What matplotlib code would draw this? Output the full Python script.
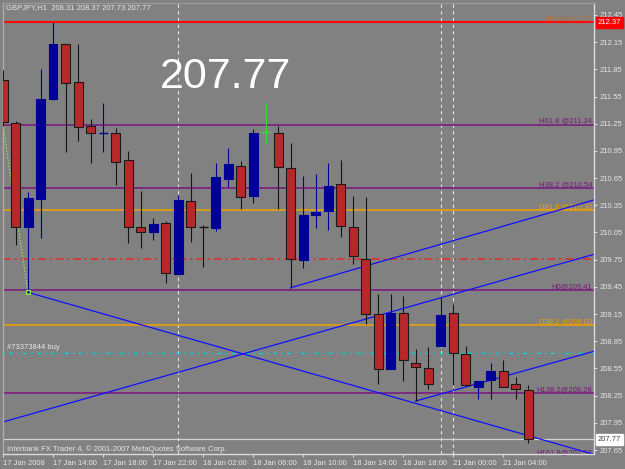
import numpy as np
import matplotlib.pyplot as plt

# GBPJPY H1 bars, 17 Jan 10:00 .. 21 Jan 04:00 (bar index = position on chart)
opens = [211.73, 211.26, 210.11, 210.42, 211.52, 212.13, 211.71, 211.22, 211.15, 211.15,
         210.85, 210.11, 210.05, 210.16, 209.59, 210.40, 210.11, 210.10, 210.64, 210.78,
         210.45, 211.16, 211.15, 210.76, 209.75, 210.24, 210.29, 210.59, 210.11, 209.76,
         209.15, 208.54, 209.16, 208.61, 208.56, 208.80, 209.16, 208.71, 208.35, 208.42,
         208.52, 208.38, 208.31]
highs = [211.84, 211.28, 210.50, 211.85, 212.37, 212.13, 212.13, 211.30, 211.48, 211.20,
         210.95, 210.51, 210.21, 210.18, 210.46, 210.71, 210.13, 210.82, 210.98, 210.84,
         211.19, 211.49, 211.23, 211.04, 210.67, 210.69, 210.82, 210.85, 210.45, 210.44,
         209.37, 209.37, 209.35, 208.77, 208.79, 209.34, 209.26, 208.80, 208.41, 208.61,
         208.64, 208.46, 208.37]
lows = [211.22, 209.91, 209.39, 209.99, 211.51, 210.94, 211.06, 210.82, 210.94, 210.57,
        209.93, 209.88, 209.97, 209.49, 209.59, 209.95, 209.67, 210.07, 210.55, 210.31,
        210.38, 211.03, 210.31, 209.44, 209.66, 210.10, 210.08, 210.00, 209.70, 209.04,
        208.38, 208.54, 208.41, 208.19, 208.32, 208.80, 208.37, 208.36, 208.21, 208.21,
        208.35, 208.21, 207.73]
closes = [211.27, 210.11, 210.43, 211.52, 212.13, 211.70, 211.21, 211.15, 211.15, 210.83,
          210.11, 210.05, 210.14, 209.60, 210.41, 210.11, 210.11, 210.66, 210.81, 210.44,
          211.15, 211.16, 210.77, 209.76, 210.24, 210.28, 210.56, 210.12, 209.79, 209.15,
          208.54, 209.16, 208.64, 208.57, 208.38, 209.14, 208.72, 208.37, 208.41, 208.52,
          208.35, 208.32, 207.77]

x_ticks = [0, 4, 8, 12, 16, 20, 24, 28, 32, 36, 40]
x_labels = ['17 Jan 2008', '17 Jan 14:00', '17 Jan 18:00', '17 Jan 22:00', '18 Jan 02:00',
            '18 Jan 06:00', '18 Jan 10:00', '18 Jan 14:00', '18 Jan 18:00', '21 Jan 00:00',
            '21 Jan 04:00']
y_ticks = [212.45, 212.15, 211.85, 211.55, 211.25, 210.95, 210.65, 210.35, 210.05,
           209.75, 209.45, 209.15, 208.85, 208.55, 208.25, 207.95, 207.65]
separators = [14, 35, 36]

# fibo levels
level_prices = [212.37, 211.24, 210.54, 210.30, 209.41, 209.03, 208.28, 207.58]
level_names = ['H100@212.37', 'H61.8 @211.24', 'H38.2 @210.54', 'D61.8 @210.30',
               'H0@209.41', 'D38.2 @209.03', 'H138.2@208.28', 'H161.8@207.58']

# trend lines as (bar, price) anchor pairs
trend_lines = [((2, 209.39), (47.3, 207.60)),
               ((-1, 207.92), (47.3, 209.81)),
               ((23, 209.44), (47.3, 210.41)),
               ((33, 208.19), (47.3, 208.74))]

red_line = 212.37
bid = 207.77
dash_red = 209.76
order_price = 208.72
order_name = '#73373844 buy'
trade_path = [(0, 211.23), (2, 209.39)]

BG = '#818181'
TXT = '#E6E6E6'
PURPLE = '#7A1480'
ORANGE = '#F2A200'
BULL = '#000096'
BEAR = '#B8282A'
doji_colors = {8: BULL, 16: '#111111', 21: '#33DD33'}

plt.rcParams['font.family'] = ['Liberation Sans', 'DejaVu Sans']

fig = plt.figure(figsize=(6.25, 4.69), dpi=100)
fig.patch.set_facecolor(BG)
ax = fig.add_axes([3 / 625, 1 - 454 / 469, 591 / 625, 451 / 469])
ax.set_facecolor(BG)
ax.set_xlim(0, 47.28)
ax.set_ylim(207.606, 212.582)

for s in ax.spines.values():
    s.set_color('#DADADA')
    s.set_linewidth(1.0)
ax.spines['left'].set_color('#ABABAB')
ax.spines['top'].set_color('#9A9A9A')

# period separators
for k in separators:
    ax.axvline(k, color='#E4E4E4', lw=0.8, ls=(0, (3, 3)), zorder=1)

# levels
for p, name in zip(level_prices, level_names):
    col = ORANGE if name.startswith('D') else PURPLE
    ax.axhline(p, color=col, lw=1.1, zorder=1)
    tcol = '#B0703A' if name.startswith('H100') else col
    ax.text(47.15, p, name, color=tcol, fontsize=5.5, ha='right', va='bottom',
            clip_on=False, zorder=2)

ax.axhline(red_line, color='#FF0A0A', lw=1.5, zorder=2)
ax.axhline(dash_red, color='#E82828', lw=1.1, ls=(0, (5, 2.5, 1.5, 2.5)), zorder=1)
ax.axhline(order_price, color='#00D0D8', lw=1.0, ls=(0, (1, 3, 3, 3)), zorder=1)
ax.text(0.3, order_price + 0.02, order_name, color=TXT, fontsize=5.5, va='bottom', zorder=2)
ax.axhline(bid, color='#D4D4D4', lw=0.9, zorder=2)

# trend lines
for (x0, y0), (x1, y1) in trend_lines:
    ax.plot([x0, x1], [y0, y1], color='#1010FF', lw=0.9, zorder=2)

tx, ty = zip(*trade_path)
ax.plot(tx, ty, color='#99EE44', lw=0.9, ls=(0, (1, 1.5)), zorder=2)
ax.plot(tx[-1], ty[-1], 's', ms=2.5, mfc='none', mec='#99EE44', mew=0.7, zorder=5)

# candles
o = np.array(opens)
h = np.array(highs)
l = np.array(lows)
c = np.array(closes)
x = np.arange(len(o))
bull = c > o
bear = c < o
doji = c == o
w = 0.72

ax.vlines(x[bear], l[bear], h[bear], color='#141414', lw=0.8, zorder=3)
ax.bar(x[bear], (o - c)[bear], bottom=c[bear], width=w, color=BEAR,
       edgecolor='#1A1A1A', linewidth=0.8, zorder=4)
ax.vlines(x[bull], l[bull], h[bull], color=BULL, lw=0.8, zorder=3)
ax.bar(x[bull], (c - o)[bull], bottom=o[bull], width=w, color=BULL,
       edgecolor=BULL, linewidth=0.8, zorder=4)
for k in x[doji]:
    col = doji_colors.get(k, '#111111')
    ax.vlines(k, l[k], h[k], color=col, lw=0.8, zorder=3)
    ax.hlines(o[k], k - w / 2, k + w / 2, color=col, lw=1.0, zorder=4)

# axes
ax.yaxis.tick_right()
ax.set_yticks(y_ticks)
ax.set_yticklabels(['%.2f' % v for v in y_ticks])
ax.set_xticks(x_ticks)
ax.set_xticklabels(x_labels, ha='left')
ax.tick_params(axis='both', colors='#DADADA', labelcolor=TXT, labelsize=5.5,
               length=2.5, width=0.8, pad=1.5)

for p, fc, tc in [(red_line, '#FF0000', 'white'), (bid, 'white', '#404040')]:
    ax.annotate('%.2f' % p, xy=(1.0, p), xycoords=('axes fraction', 'data'),
                xytext=(2.5, 0), textcoords='offset points', va='center', ha='left',
                fontsize=5.5, color=tc, annotation_clip=False,
                bbox=dict(boxstyle='square,pad=0.25', fc=fc, ec=fc))

fig.text(6 / 625, 1 - 8 / 469, 'GBPJPY,H1  %.2f %.2f %.2f %.2f' % (opens[-1], highs[-1], lows[-1], closes[-1]),
         color=TXT, fontsize=5.5, va='center')
fig.text(160 / 625, 1 - 88 / 469, '%.2f' % closes[-1], color='white', fontsize=31,
         va='baseline')
fig.text(7 / 625, 1 - 449 / 469, 'Interbank FX Trader 4, \u00a9 2001-2007 MetaQuotes Software Corp.',
         color=TXT, fontsize=5.5, va='center')

fig.savefig('out.png', dpi=100, facecolor=BG)
